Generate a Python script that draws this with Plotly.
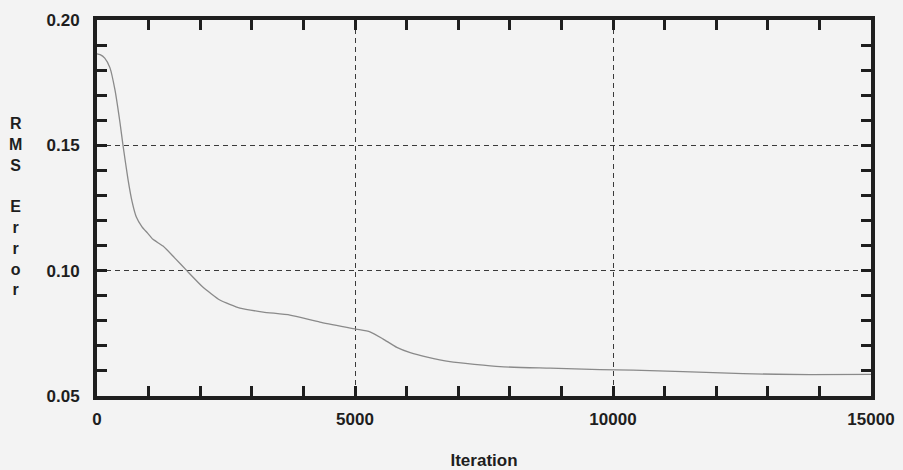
import plotly.graph_objects as go

iterations = [0, 60, 150, 250, 349, 446, 504, 600, 680, 760, 872, 980, 1085, 1280,
              1500, 1745, 2050, 2380, 2770, 3220, 3740, 4320, 5020, 5290, 5540, 5810,
              6070, 6400, 6840, 7810, 8780, 9750, 10390, 11360, 12520, 13820, 15000]
rms_error = [0.1865, 0.1862, 0.1848, 0.1810, 0.1720, 0.1590, 0.1500, 0.1365, 0.1275,
             0.1215, 0.1175, 0.1150, 0.1125, 0.1098, 0.1052, 0.0999, 0.0935, 0.0883,
             0.0851, 0.0835, 0.0823, 0.0795, 0.0767, 0.0756, 0.0728, 0.0694, 0.0673,
             0.0655, 0.0637, 0.0617, 0.0611, 0.0605, 0.0603, 0.0597, 0.0589, 0.0585,
             0.0586]

x_ticks = [0, 5000, 10000, 15000]
y_ticks = [0.05, 0.10, 0.15, 0.20]
y_title_lines = ["R", "M", "S", "", "E", "r", "r", "o", "r"]

FONT = "Liberation Sans, Arial, DejaVu Sans, sans-serif"
BG = "#f3f3f3"
INK = "#1e1e1e"

fig = go.Figure()
fig.add_trace(go.Scatter(x=iterations, y=rms_error, mode="lines",
                         line=dict(color="#8a8a8a", width=1.3, shape="spline", smoothing=0.5),
                         showlegend=False))

axis_common = dict(
    showline=True, linecolor=INK, linewidth=4, mirror="ticks",
    ticks="inside", ticklen=10, tickwidth=3, tickcolor=INK,
    showgrid=True, gridcolor="#3a3a3a", gridwidth=1, griddash="5px,4px",
    zeroline=False, automargin=False,
    tickfont=dict(family=FONT, size=17, color=INK, weight="bold"),
)

fig.update_layout(
    width=903, height=470,
    margin=dict(l=97, r=32, t=20, b=74),
    paper_bgcolor=BG, plot_bgcolor=BG,
    xaxis=dict(range=[0, 15000], tickvals=x_ticks, ticktext=[str(v) for v in x_ticks],
               minor=dict(dtick=1000, tick0=0, ticks="inside", ticklen=10, tickwidth=3,
                          tickcolor=INK, showgrid=False),
               ticklabelstandoff=5,
               title=dict(text="Iteration", standoff=29,
                          font=dict(family=FONT, size=17, color=INK, weight="bold")),
               **axis_common),
    yaxis=dict(range=[0.05, 0.20], tickvals=y_ticks, ticktext=[f"{v:.2f}" for v in y_ticks],
               minor=dict(dtick=0.01, tick0=0.05, ticks="inside", ticklen=10, tickwidth=3,
                          tickcolor=INK, showgrid=False),
               ticklabelstandoff=10,
               **axis_common),
)

fig.add_annotation(
    text="<br>".join(y_title_lines), xref="paper", yref="paper",
    x=-82 / 774, y=0.5 - (206 - 208) / 376, xanchor="center", yanchor="middle",
    showarrow=False, align="center",
    font=dict(family=FONT, size=16, color=INK, weight="bold"),
)

fig.write_html("out.html", config={"displayModeBar": False},
               post_script="document.body.style.margin='0';document.body.style.background='#f3f3f3';")
